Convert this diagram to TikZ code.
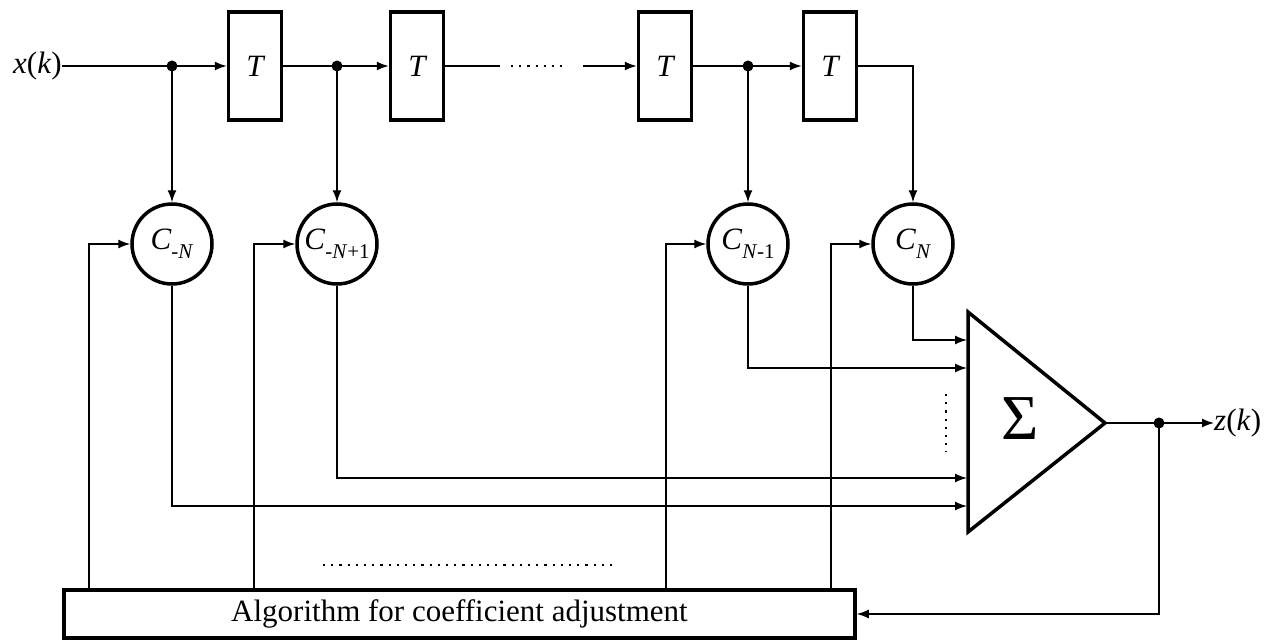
\documentclass[tikz,border=0pt]{standalone}
\usepackage{fontspec}
\setmainfont{Liberation Serif}
\usetikzlibrary{arrows.meta}
\begin{document}
\begin{tikzpicture}[x=1pt,y=-1pt,
  >={Latex[length=12pt,width=9pt]},
  conn/.style={line width=1.4pt},
  delay/.style={draw,line width=3.5pt,minimum width=53pt,minimum height=108pt,inner sep=0pt,font=\fontsize{31}{36}\selectfont\itshape},
  coef/.style={draw,circle,line width=3.5pt,minimum size=80pt,inner sep=0pt,font=\fontsize{31}{36}\selectfont},
  algbox/.style={draw,line width=3.5pt,minimum width=791pt,minimum height=48pt,inner sep=0pt,font=\fontsize{31}{36}\selectfont},
  lbl/.style={inner sep=0pt,font=\fontsize{31}{36}\selectfont},
  junc/.style={circle,fill=black,inner sep=0pt,minimum size=11pt},
  dots/.style={line width=2.2pt,dash pattern=on 2.2pt off 6pt},
]
\useasboundingbox (0,0) rectangle (1264,642);
% input
\node[lbl,anchor=east] (x) at (62,66) {\textit{x}(\textit{k})};
% delays
\node[delay] (T1) at (255,66) {T};
\node[delay] (T2) at (417,66) {T};
\node[delay] (T3) at (665,66) {T};
\node[delay] (T4) at (830,66) {T};
% junctions
\node[junc] (j1) at (172,66) {};
\node[junc] (j2) at (337,66) {};
\node[junc] (j3) at (748,66) {};
\coordinate (j4) at (913,66);
\coordinate (g1) at (500,66);
\coordinate (g2) at (583,66);
% coefficients
\newcommand{\sub}[1]{\raisebox{-0.28em}{\fontsize{21}{24}\selectfont #1}}
\node[coef] (c1) at (172,244) {\textit{C}\sub{-\textit{N}}};
\node[coef] (c2) at (337,244) {\textit{C}\sub{-\textit{N}+1}};
\node[coef] (c3) at (748,244) {\textit{C}\sub{\textit{N}-1}};
\node[coef] (c4) at (913,244) {\textit{C}\sub{\textit{N}}};
% summer
\coordinate (s1) at (968,312);
\coordinate (s2) at (968,532);
\coordinate (s3) at (1105,423);
\draw[line width=3.5pt,line join=miter] (s1) -- (s3) -- (s2) -- cycle;
\node[inner sep=0pt,font=\fontsize{64}{70}\selectfont] (sig) at (1020,419) {Σ};
\coordinate (in1) at (967,340);
\coordinate (in2) at (967,368);
\coordinate (in3) at (967,478);
\coordinate (in4) at (967,506);
% output
\node[junc] (jo) at (1159,423) {};
\node[lbl,anchor=west] (z) at (1214,423) {\textit{z}(\textit{k})};
% algorithm box
\node[algbox] (alg) at (459.5,614) {Algorithm for coefficient adjustment};
% top chain
\draw[conn] (x.east) -- (j1.center);
\draw[conn,->] (j1.center) -- (T1.west);
\draw[conn] (T1.east) -- (j2.center);
\draw[conn,->] (j2.center) -- (T2.west);
\draw[conn] (T2.east) -- (g1);
\draw[dots] (511,66) -- (568,66);
\draw[conn,->] (g2) -- (T3.west);
\draw[conn] (T3.east) -- (j3.center);
\draw[conn,->] (j3.center) -- (T4.west);
\draw[conn,->] (T4.east) -- (j4) -- (c4.north);
% taps
\draw[conn,->] (j1.center) -- (c1.north);
\draw[conn,->] (j2.center) -- (c2.north);
\draw[conn,->] (j3.center) -- (c3.north);
% coefficient outputs to summer
\draw[conn,->] (c4.south) |- (in1);
\draw[conn,->] (c3.south) |- (in2);
\draw[conn,->] (c2.south) |- (in3);
\draw[conn,->] (c1.south) |- (in4);
\draw[dots] (946,394) -- (946,452);
% output
\draw[conn] (s3) -- (jo.center);
\draw[conn,->] (jo.center) -- (z.west);
\draw[conn,->] (jo.center) |- (alg.east);
% feedback to coefficients
\draw[conn,->] (alg.north -| 89,0) |- (c1.west);
\draw[conn,->] (alg.north -| 254,0) |- (c2.west);
\draw[conn,->] (alg.north -| 666,0) |- (c3.west);
\draw[conn,->] (alg.north -| 831,0) |- (c4.west);
\draw[dots] (323,565) -- (615,565);
\end{tikzpicture}
\end{document}
